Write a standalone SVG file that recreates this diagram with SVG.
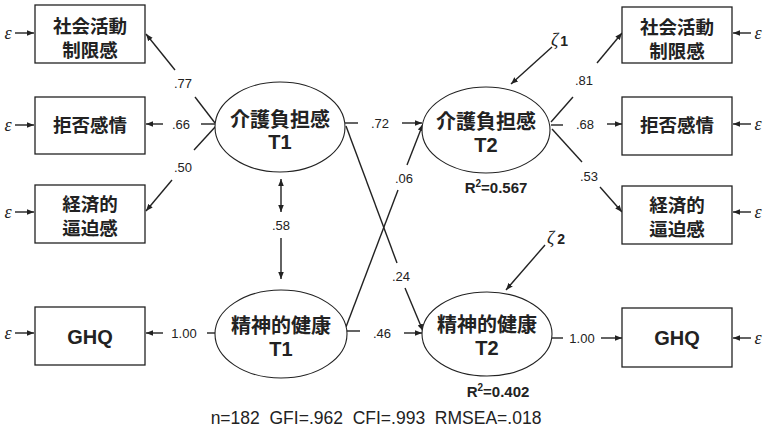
<svg xmlns="http://www.w3.org/2000/svg" width="763" height="441" viewBox="0 0 763 441">
  <style>
    .box { fill: #fff; stroke: #222; stroke-width: 1.3; }
    .lat { fill: #fff; stroke: #222; stroke-width: 1.1; }
    .jp { font-family: "Noto Sans CJK JP", "Noto Sans CJK SC", sans-serif; font-weight: bold; font-size: 18.5px; fill: #222; text-anchor: middle; }
    .jpl { font-size: 20px; }
    .en { font-family: "Liberation Sans", Arial, sans-serif; font-weight: bold; font-size: 20px; fill: #222; text-anchor: middle; }
    .coef { font-family: "Liberation Sans", Arial, sans-serif; font-size: 13px; fill: #222; text-anchor: middle; dominant-baseline: central; }
    .r2 { font-family: "Liberation Sans", Arial, sans-serif; font-weight: bold; font-size: 15px; fill: #222; text-anchor: middle; }
    .eps { font-family: "Liberation Serif", serif; font-style: italic; font-size: 18px; fill: #222; text-anchor: middle; dominant-baseline: central; }
    .zeta { font-family: "Liberation Serif", serif; font-style: italic; font-size: 18px; fill: #222; }
    .zn { font-family: "Liberation Sans", Arial, sans-serif; font-style: normal; font-weight: bold; font-size: 14px; }
    .fit { font-family: "Liberation Sans", Arial, sans-serif; font-size: 17.5px; fill: #222; text-anchor: middle; }
    .ln { fill: none; stroke: #222; stroke-width: 1.4; }
    .arr { fill: none; stroke: #222; stroke-width: 1.4; marker-end: url(#head); }
    .dbl { fill: none; stroke: #222; stroke-width: 1.4; marker-start: url(#headS); marker-end: url(#head); }
  </style>
  <defs>
    <marker id="head" viewBox="0 0 10 10" refX="10" refY="5" markerWidth="7" markerHeight="7" markerUnits="userSpaceOnUse" orient="auto">
      <path d="M0,1 L10,5 L0,9 z" fill="#222"/>
    </marker>
    <marker id="headS" viewBox="0 0 10 10" refX="0" refY="5" markerWidth="7" markerHeight="7" markerUnits="userSpaceOnUse" orient="auto">
      <path d="M10,1 L0,5 L10,9 z" fill="#222"/>
    </marker>
  </defs>
  <rect width="763" height="441" fill="#fff"/>

  <!-- connectors -->
  <g id="connectors">
    <!-- error terms, left indicators -->
    <path class="arr" d="M15,33 H34"/>
    <path class="arr" d="M15,125 H34"/>
    <path class="arr" d="M15,212 H34"/>
    <path class="arr" d="M15,333 H34"/>
    <!-- error terms, right indicators -->
    <path class="arr" d="M751,33 H733"/>
    <path class="arr" d="M751,124 H733"/>
    <path class="arr" d="M751,212 H733"/>
    <path class="arr" d="M751,338 H733"/>

    <!-- loadings of burden T1 -->
    <path class="ln" d="M215,123 L195,97"/>
    <path class="arr" d="M175,70 L146,34"/>
    <path class="ln" d="M215,124 H201"/>
    <path class="arr" d="M163,124 H146"/>
    <path class="ln" d="M216,126 L194,150"/>
    <path class="arr" d="M172,180 L146,211"/>
    <!-- loading of mental health T1 -->
    <path class="ln" d="M215,333 H207"/>
    <path class="arr" d="M163,333 H146"/>

    <!-- loadings of burden T2 -->
    <path class="ln" d="M551,122 L573,97"/>
    <path class="arr" d="M597,63 L622,33"/>
    <path class="ln" d="M551,125 H563"/>
    <path class="arr" d="M607,124 H622"/>
    <path class="ln" d="M552,129 L582,162"/>
    <path class="arr" d="M600,187 L622,212"/>
    <!-- loading of mental health T2 -->
    <path class="ln" d="M552,338 H563"/>
    <path class="arr" d="M601,338 H622"/>

    <!-- structural paths -->
    <path class="ln" d="M345,123 H358"/>
    <path class="arr" d="M402,123 H422"/>
    <path class="ln" d="M346,331 H360"/>
    <path class="arr" d="M404,333 H422"/>
    <path class="ln" d="M346,327 L398,190"/>
    <path class="arr" d="M407,165 L423,124"/>
    <path class="ln" d="M346,126 L397,263"/>
    <path class="arr" d="M405,288 L423,331"/>

    <!-- correlation between T1 factors -->
    <path class="dbl" d="M281,179 V212"/>
    <path class="arr" d="M281,238 V279"/>

    <!-- disturbances -->
    <path class="arr" d="M552,47 L511,84"/>
    <path class="arr" d="M545,245 L506,290"/>
  </g>

  <!-- coefficient labels -->
  <g id="labels">
    <text class="coef" x="183" y="83">.77</text>
    <text class="coef" x="181" y="124">.66</text>
    <text class="coef" x="183" y="167">.50</text>
    <text class="coef" x="184" y="333">1.00</text>
    <text class="coef" x="380" y="123">.72</text>
    <text class="coef" x="404" y="178">.06</text>
    <text class="coef" x="281" y="225">.58</text>
    <text class="coef" x="401" y="276">.24</text>
    <text class="coef" x="382" y="333">.46</text>
    <text class="coef" x="584" y="80">.81</text>
    <text class="coef" x="585" y="124">.68</text>
    <text class="coef" x="589" y="176">.53</text>
    <text class="coef" x="582" y="338">1.00</text>
    <text class="r2" x="496" y="193">R<tspan font-size="10" dy="-6">2</tspan><tspan dy="6">=0.567</tspan></text>
    <text class="r2" x="498" y="397">R<tspan font-size="10" dy="-6">2</tspan><tspan dy="6">=0.402</tspan></text>
    <text class="zeta" x="551" y="46">ζ<tspan class="zn" dx="2">1</tspan></text>
    <text class="zeta" x="547" y="244">ζ<tspan class="zn" dx="3">2</tspan></text>
    <text class="eps" x="8" y="33">ε</text>
    <text class="eps" x="8" y="125">ε</text>
    <text class="eps" x="8" y="212">ε</text>
    <text class="eps" x="8" y="333">ε</text>
    <text class="eps" x="758" y="33">ε</text>
    <text class="eps" x="758" y="124">ε</text>
    <text class="eps" x="758" y="212">ε</text>
    <text class="eps" x="758" y="338">ε</text>
    <text class="fit" x="376" y="424" xml:space="preserve">n=182  GFI=.962  CFI=.993  RMSEA=.018</text>
  </g>

  <!-- indicators, left -->
  <g id="L_social">
    <rect class="box" x="35" y="5" width="110" height="58"/>
    <text class="jp" x="90" y="33">社会活動</text>
    <text class="jp" x="90" y="57">制限感</text>
  </g>
  <g id="L_reject">
    <rect class="box" x="35" y="97" width="110" height="57"/>
    <text class="jp" x="90" y="132">拒否感情</text>
  </g>
  <g id="L_econ">
    <rect class="box" x="35" y="185" width="110" height="58"/>
    <text class="jp" x="90" y="211">経済的</text>
    <text class="jp" x="90" y="235">逼迫感</text>
  </g>
  <g id="L_ghq">
    <rect class="box" x="35" y="307" width="110" height="58"/>
    <text class="en" x="90" y="344">GHQ</text>
  </g>

  <!-- indicators, right -->
  <g id="R_social">
    <rect class="box" x="622" y="7" width="110" height="56"/>
    <text class="jp" x="677" y="34">社会活動</text>
    <text class="jp" x="677" y="58">制限感</text>
  </g>
  <g id="R_reject">
    <rect class="box" x="622" y="97" width="110" height="58"/>
    <text class="jp" x="677" y="132">拒否感情</text>
  </g>
  <g id="R_econ">
    <rect class="box" x="622" y="186" width="110" height="58"/>
    <text class="jp" x="677" y="212">経済的</text>
    <text class="jp" x="677" y="236">逼迫感</text>
  </g>
  <g id="R_ghq">
    <rect class="box" x="622" y="308" width="110" height="59"/>
    <text class="en" x="677" y="345">GHQ</text>
  </g>

  <!-- latent factors -->
  <g id="burden_T1">
    <ellipse class="lat" cx="280" cy="127" rx="65" ry="45"/>
    <text class="jp jpl" x="280" y="127">介護負担感</text>
    <text class="en" x="280" y="149">T1</text>
  </g>
  <g id="mental_T1">
    <ellipse class="lat" cx="281" cy="334" rx="66" ry="44"/>
    <text class="jp jpl" x="281" y="333">精神的健康</text>
    <text class="en" x="281" y="356">T1</text>
  </g>
  <g id="burden_T2">
    <ellipse class="lat" cx="486" cy="130" rx="64" ry="43"/>
    <text class="jp jpl" x="486" y="129">介護負担感</text>
    <text class="en" x="486" y="152">T2</text>
  </g>
  <g id="mental_T2">
    <ellipse class="lat" cx="487" cy="334" rx="65" ry="42"/>
    <text class="jp jpl" x="487" y="332">精神的健康</text>
    <text class="en" x="487" y="355">T2</text>
  </g>
</svg>
